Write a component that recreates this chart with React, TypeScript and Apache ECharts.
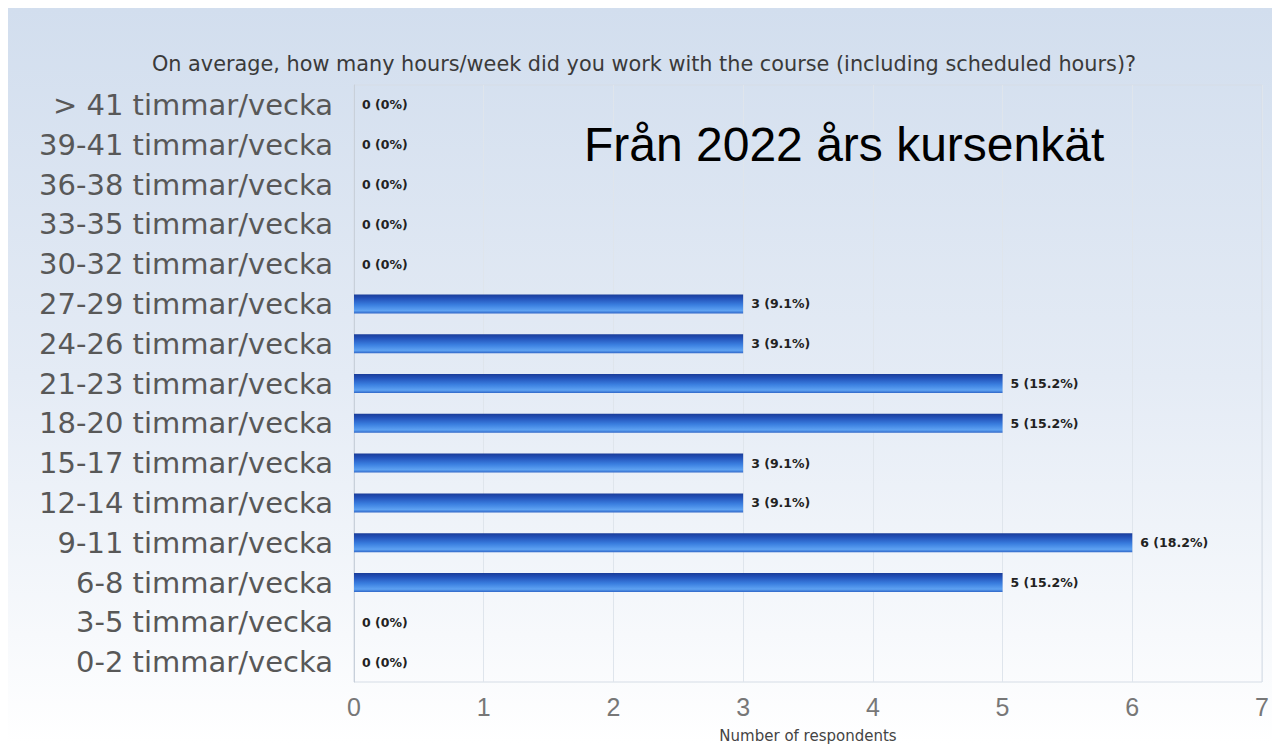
import React, { useEffect, useRef } from "react";
import * as echarts from "echarts";

const categories = [
  "> 41 timmar/vecka",
  "39-41 timmar/vecka",
  "36-38 timmar/vecka",
  "33-35 timmar/vecka",
  "30-32 timmar/vecka",
  "27-29 timmar/vecka",
  "24-26 timmar/vecka",
  "21-23 timmar/vecka",
  "18-20 timmar/vecka",
  "15-17 timmar/vecka",
  "12-14 timmar/vecka",
  "9-11 timmar/vecka",
  "6-8 timmar/vecka",
  "3-5 timmar/vecka",
  "0-2 timmar/vecka",
];
const counts = [0, 0, 0, 0, 0, 3, 3, 5, 5, 3, 3, 6, 5, 0, 0];
const percents = ["0%", "0%", "0%", "0%", "0%", "9.1%", "9.1%", "15.2%", "15.2%", "9.1%", "9.1%", "18.2%", "15.2%", "0%", "0%"];
const xTicks = [0, 1, 2, 3, 4, 5, 6, 7];

const title = "On average, how many hours/week did you work with the course (including scheduled hours)?";
const overlay = "Från 2022 års kursenkät";
const xName = "Number of respondents";

export default function App() {
  const ref = useRef<HTMLDivElement>(null);
  useEffect(() => {
    if (!ref.current) return;
    const chart = echarts.init(ref.current, null, { renderer: "svg" });
    const font = "Liberation Sans, Arial, Helvetica, sans-serif";
    const wide = "DejaVu Sans, Verdana, sans-serif";
    chart.setOption({
      animation: false,
      backgroundColor: new echarts.graphic.LinearGradient(0, 0, 0, 1, [
        { offset: 0, color: "#d2deee" },
        { offset: 0.5, color: "#e4ebf5" },
        { offset: 1, color: "#ffffff" },
      ]),
      title: {
        text: title,
        left: "center",
        top: 40,
        textStyle: { fontFamily: wide, fontSize: 20.8, fontWeight: "normal", color: "#3a3a3a" },
      },
      graphic: [
        {
          type: "text",
          left: 576,
          top: 112,
          style: { text: overlay, fontFamily: font, fontSize: 48, fill: "#000" },
          z: 100,
        },
      ],
      grid: {
        left: 346,
        right: 18,
        top: 77,
        bottom: 62,
        outerBoundsMode: "none",
        containLabel: false,
        show: true,
        borderColor: "#d6dde6",
        borderWidth: 1,
        backgroundColor: "transparent",
      },
      xAxis: {
        type: "value",
        min: xTicks[0],
        max: xTicks[xTicks.length - 1],
        interval: 1,
        name: xName,
        nameLocation: "middle",
        nameGap: 46,
        nameTextStyle: { fontFamily: wide, fontSize: 15, color: "#444" },
        axisLine: { show: false },
        axisTick: { show: false },
        axisLabel: { fontFamily: font, fontSize: 25, color: "#777", margin: 12 },
        splitLine: { show: true, lineStyle: { color: "#dfe5ec", width: 1 } },
      },
      yAxis: {
        type: "category",
        data: categories,
        inverse: true,
        axisLine: { show: true, lineStyle: { color: "#c8d0da" } },
        axisTick: { show: false },
        axisLabel: { fontFamily: wide, fontSize: 29, color: "#585858", margin: 21 },
        splitLine: { show: false },
      },
      series: [
        {
          type: "bar",
          data: counts,
          barWidth: 19,
          itemStyle: {
            color: new echarts.graphic.LinearGradient(0, 0, 0, 1, [
              { offset: 0, color: "#1a3c98" },
              { offset: 0.2, color: "#2250b8" },
              { offset: 0.55, color: "#3a7edf" },
              { offset: 0.85, color: "#5ea2f2" },
              { offset: 1, color: "#2f66c8" },
            ]),
          },
          label: {
            show: true,
            position: "right",
            distance: 8,
            fontFamily: wide,
            fontSize: 12.5,
            fontWeight: "bold",
            color: "#222",
            formatter: (p: any) => `${p.value} (${percents[p.dataIndex]})`,
          },
        },
      ],
    });
    return () => chart.dispose();
  }, []);
  return <div ref={ref} style={{ width: 1272, height: 736 }} />;
}
